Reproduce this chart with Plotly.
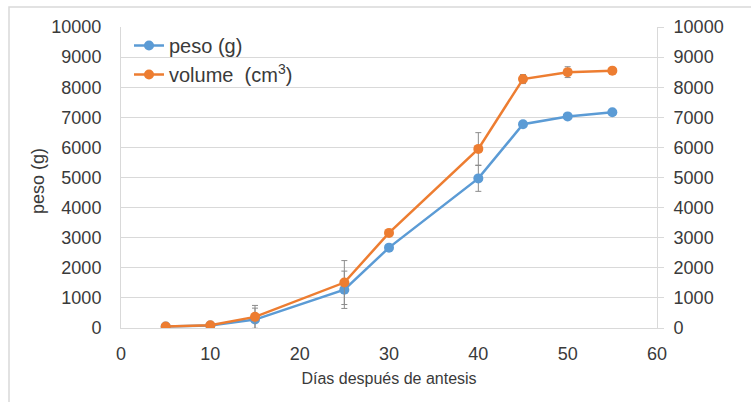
import plotly.graph_objects as go

dias = [5, 10, 15, 25, 30, 40, 45, 50, 55]
peso = [50, 80, 280, 1270, 2670, 4970, 6770, 7030, 7170]
peso_err = [0, 0, 380, 620, 60, 430, 0, 0, 0]
volume = [50, 90, 370, 1510, 3160, 5950, 8270, 8500, 8550]
volume_err = [0, 0, 380, 730, 60, 540, 150, 180, 0]
y_ticks = list(range(0, 10001, 1000))
y_labels = [str(v) for v in y_ticks]
x_ticks = [0, 10, 20, 30, 40, 50, 60]

W, H = 751, 402
L, R, T, B = 121, 657, 27, 328
pw, ph = R - L, B - T

def px(x):
    return (x - L) / pw

def py(y):
    return (B - y) / ph

col = "#3a3a3a"
tickfont = dict(family="Liberation Sans, Arial", size=18, color=col)
xtitlefont = dict(family="Liberation Sans, Arial", size=16, color=col)
ytitlefont = dict(family="Liberation Sans, Arial", size=18, color=col)
legfont = dict(family="Liberation Sans, Arial", size=20, color=col)
errc = "#8c8c8c"

fig = go.Figure()
fig.add_trace(go.Scatter(
    x=dias, y=peso, name="peso (g)", mode="lines+markers",
    line=dict(color="#5B9BD5", width=2.5),
    marker=dict(color="#5B9BD5", size=10),
    error_y=dict(type="data", array=peso_err, color=errc, thickness=1, width=3),
))
fig.add_trace(go.Scatter(
    x=dias, y=volume, name="volume\u00a0 (cm<sup>3</sup>)", mode="lines+markers",
    line=dict(color="#ED7D31", width=2.5),
    marker=dict(color="#ED7D31", size=10),
    error_y=dict(type="data", array=volume_err, color=errc, thickness=1, width=3),
    yaxis="y2",
))

fig.update_layout(
    width=W, height=H,
    margin=dict(l=L, r=W - R, t=T, b=H - B, pad=0),
    paper_bgcolor="white", plot_bgcolor="white",
    font=tickfont,
    xaxis=dict(
        range=[0, 60], tickvals=x_ticks,
        showgrid=False, zeroline=False, showline=True, linecolor="#d9d9d9",
        ticks="", tickfont=tickfont, ticklabelstandoff=9,
        title=dict(text="Días después de antesis", font=xtitlefont, standoff=10),
    ),
    yaxis=dict(
        range=[0, 10000], tickvals=y_ticks, ticktext=y_labels,
        showgrid=True, gridcolor="#d9d9d9", gridwidth=1, zeroline=False,
        showline=True, linecolor="#d9d9d9", ticks="", tickfont=tickfont,
        ticklabelstandoff=15,
    ),
    yaxis2=dict(
        range=[0, 10000], tickvals=y_ticks, ticktext=y_labels,
        overlaying="y", side="right", anchor="x",
        showgrid=False, zeroline=False, showline=True, linecolor="#d9d9d9",
        ticks="outside", ticklen=6, tickcolor="#d9d9d9", tickfont=tickfont,
        ticklabelstandoff=6,
    ),
    annotations=[
        dict(text="peso (g)", textangle=-90, xref="paper", yref="paper",
             x=px(38), y=py(181), xanchor="center", yanchor="middle",
             showarrow=False, font=ytitlefont),
    ],
    legend=dict(
        x=px(129), y=py(26), xanchor="left", yanchor="top",
        bgcolor="rgba(0,0,0,0)", font=legfont, tracegroupgap=0,
        itemwidth=30,
    ),
    shapes=[
        dict(type="rect", xref="paper", yref="paper",
             x0=px(233), x1=px(303), y0=py(95), y1=py(35),
             fillcolor="white", line=dict(width=0), layer="between"),
        dict(type="rect", xref="paper", yref="paper",
             x0=px(9), x1=px(770), y0=py(420), y1=py(7),
             fillcolor="rgba(0,0,0,0)", line=dict(color="#d9d9d9", width=1.5),
             layer="above"),
    ],
)

fig.write_html("out.html")
